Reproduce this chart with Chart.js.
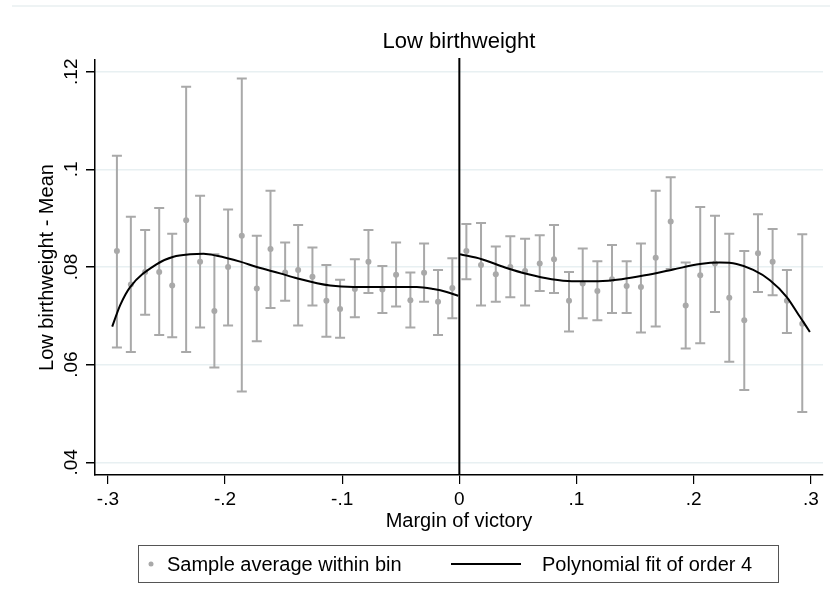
<!DOCTYPE html>
<html>
<head>
<meta charset="utf-8">
<script src="https://cdn.jsdelivr.net/npm/chart.js@4.4.1/dist/chart.umd.min.js"></script>
<style>
  html, body { margin: 0; padding: 0; background: #fff; }
  #wrap { width: 838px; height: 608px; }
</style>
</head>
<body>
<div id="wrap"><canvas id="chart" width="838" height="608"></canvas></div>
<script>
// Bin averages (left and right of the cutoff) with their confidence bars
const binX = [-0.2923, -0.2804, -0.2682, -0.2562, -0.2451, -0.2332, -0.2213, -0.2091, -0.1974, -0.1857,
    -0.1729, -0.1612, -0.1487, -0.1376, -0.1254, -0.1135, -0.1018, -0.0892, -0.0776, -0.0657,
    -0.0540, -0.0418, -0.0301, -0.0182, -0.0060,
    0.0060, 0.0185, 0.0311, 0.0435, 0.0561, 0.0686, 0.0808, 0.0936, 0.1053, 0.1178,
    0.1303, 0.1428, 0.1550, 0.1676, 0.1804, 0.1932, 0.2056, 0.2182, 0.2304, 0.2432,
    0.2549, 0.2674, 0.2796, 0.2927];
const binMean = [0.0833, 0.0764, 0.0790, 0.0790, 0.0762, 0.0896, 0.0811, 0.0710, 0.0800, 0.0864,
    0.0756, 0.0837, 0.0789, 0.0794, 0.0780, 0.0731, 0.0714, 0.0755, 0.0811, 0.0754,
    0.0784, 0.0732, 0.0788, 0.0729, 0.0757,
    0.0833, 0.0804, 0.0785, 0.0800, 0.0792, 0.0807, 0.0816, 0.0731, 0.0766, 0.0751,
    0.0775, 0.0761, 0.0759, 0.0819, 0.0893, 0.0721, 0.0783, 0.0807, 0.0737, 0.0691,
    0.0828, 0.0811, 0.0731, 0.0684];
const binHi = [0.1028, 0.0903, 0.0876, 0.0921, 0.0868, 0.1169, 0.0946, 0.0826, 0.0918, 0.1186,
    0.0864, 0.0956, 0.0850, 0.0886, 0.0840, 0.0804, 0.0774, 0.0816, 0.0876, 0.0802,
    0.0850, 0.0789, 0.0848, 0.0794, 0.0818,
    0.0888, 0.0890, 0.0842, 0.0863, 0.0858, 0.0865, 0.0886, 0.0790, 0.0838, 0.0812,
    0.0845, 0.0812, 0.0848, 0.0956, 0.0984, 0.0809, 0.0923, 0.0905, 0.0868, 0.0833,
    0.0908, 0.0878, 0.0794, 0.0867];
const binLo = [0.0635, 0.0626, 0.0702, 0.0661, 0.0656, 0.0626, 0.0676, 0.0594, 0.0680, 0.0545,
    0.0648, 0.0716, 0.0731, 0.0680, 0.0721, 0.0657, 0.0655, 0.0697, 0.0747, 0.0706,
    0.0719, 0.0676, 0.0729, 0.0661, 0.0695,
    0.0775, 0.0721, 0.0729, 0.0738, 0.0721, 0.0751, 0.0747, 0.0668, 0.0695, 0.0691,
    0.0706, 0.0706, 0.0666, 0.0678, 0.0796, 0.0633, 0.0644, 0.0708, 0.0606, 0.0548,
    0.0749, 0.0742, 0.0665, 0.0503];

// Polynomial fit
const fitLeftX = [-0.2963, -0.2895, -0.2810, -0.2582, -0.2440, -0.2298, -0.2184, -0.2070, -0.1871,
    -0.1729, -0.1530, -0.1387, -0.1103, -0.0904, -0.0619, -0.0363, -0.0222, -0.0108, -0.0009];
const fitLeftY = [0.0678, 0.0722, 0.0759, 0.0806, 0.0821, 0.0826, 0.0827, 0.0823, 0.0811,
    0.0800, 0.0787, 0.0777, 0.0762, 0.0759, 0.0759, 0.0759, 0.0755, 0.0749, 0.0741];
const fitRightX = [0.0006, 0.0191, 0.0390, 0.0589, 0.0788, 0.0959, 0.1186, 0.1386, 0.1584,
    0.1826, 0.2054, 0.2224, 0.2367, 0.2509, 0.2651, 0.2793, 0.2907, 0.2992];
const fitRightY = [0.0826, 0.0816, 0.0799, 0.0785, 0.0775, 0.0771, 0.0771, 0.0775, 0.0783,
    0.0795, 0.0806, 0.0809, 0.0806, 0.0794, 0.0773, 0.0739, 0.0698, 0.0667];

const xTicks = [-0.3, -0.2, -0.1, 0, 0.1, 0.2, 0.3];
const xTickLabels = ['-.3', '-.2', '-.1', '0', '.1', '.2', '.3'];
const yTicks = [0.04, 0.06, 0.08, 0.1, 0.12];
const yTickLabels = ['.04', '.06', '.08', '.1', '.12'];

const X_MIN = -0.311, X_MAX = 0.3104;
const Y_MIN = 0.0374, Y_MAX = 0.1224;

const FONT = "'Liberation Sans', Arial, sans-serif";
const GRAY = '#a9a9a9';

const toPts = (xs, ys) => xs.map((x, i) => ({ x: x, y: ys[i] }));

// Error bars, y tick labels, titles, legend box
const stataPlugin = {
    id: 'stata',
    beforeDatasetsDraw(chart) {
        const { ctx, scales: { x, y } } = chart;
        ctx.save();
        ctx.strokeStyle = GRAY;
        ctx.lineWidth = 2;
        binX.forEach((bx, i) => {
            const px = x.getPixelForValue(bx);
            const top = y.getPixelForValue(binHi[i]);
            const bot = y.getPixelForValue(binLo[i]);
            ctx.beginPath();
            ctx.moveTo(px, top); ctx.lineTo(px, bot);
            ctx.moveTo(px - 5, top); ctx.lineTo(px + 5, top);
            ctx.moveTo(px - 5, bot); ctx.lineTo(px + 5, bot);
            ctx.stroke();
        });
        ctx.restore();
    },
    afterDraw(chart) {
        const { ctx, chartArea, scales: { y } } = chart;
        const cx = (chartArea.left + chartArea.right) / 2;
        const cy = (chartArea.top + chartArea.bottom) / 2;
        ctx.save();

        // faint outer frame line
        ctx.strokeStyle = '#e8eff1';
        ctx.lineWidth = 1.5;
        ctx.beginPath(); ctx.moveTo(12, 6); ctx.lineTo(830, 6); ctx.stroke();

        ctx.fillStyle = '#000';
        ctx.textAlign = 'center';
        ctx.textBaseline = 'alphabetic';

        ctx.font = '22px ' + FONT;
        ctx.fillText('Low birthweight', cx, 48);

        ctx.font = '20px ' + FONT;
        ctx.fillText('Margin of victory', cx, 527);

        // rotated y labels
        ctx.font = '19px ' + FONT;
        yTicks.forEach((v, i) => {
            ctx.save();
            ctx.translate(77, y.getPixelForValue(v));
            ctx.rotate(-Math.PI / 2);
            ctx.fillText(yTickLabels[i], 0, 0);
            ctx.restore();
        });
        ctx.font = '20px ' + FONT;
        ctx.save();
        ctx.translate(53, cy);
        ctx.rotate(-Math.PI / 2);
        ctx.fillText('Low birthweight - Mean', 0, 0);
        ctx.restore();

        // legend
        ctx.strokeStyle = '#555';
        ctx.lineWidth = 1;
        ctx.strokeRect(138.5, 545.5, 640, 37);
        ctx.fillStyle = GRAY;
        ctx.beginPath(); ctx.arc(151, 564, 2.5, 0, Math.PI * 2); ctx.fill();
        ctx.strokeStyle = '#000';
        ctx.lineWidth = 2;
        ctx.beginPath(); ctx.moveTo(451, 564); ctx.lineTo(521, 564); ctx.stroke();
        ctx.fillStyle = '#000';
        ctx.textAlign = 'left';
        ctx.font = '20px ' + FONT;
        ctx.fillText('Sample average within bin', 167, 571);
        ctx.fillText('Polynomial fit of order 4', 542, 571);
        ctx.restore();
    }
};

const curveStyle = {
    type: 'line',
    showLine: true,
    borderColor: '#000',
    borderWidth: 2,
    pointRadius: 0,
    fill: false,
    cubicInterpolationMode: 'monotone'
};

new Chart(document.getElementById('chart'), {
    type: 'scatter',
    data: {
        datasets: [
            { ...curveStyle, label: 'Polynomial fit of order 4', data: toPts(fitLeftX, fitLeftY) },
            { ...curveStyle, label: 'fit right', data: toPts(fitRightX, fitRightY) },
            {
                type: 'line', label: 'cutoff', showLine: true, borderColor: '#000', borderWidth: 2,
                pointRadius: 0, clip: false,
                data: [{ x: 0, y: Y_MIN }, { x: 0, y: Y_MAX + 0.0004 }]
            },
            {
                label: 'Sample average within bin',
                data: toPts(binX, binMean),
                pointRadius: 3,
                pointBackgroundColor: GRAY,
                pointBorderWidth: 0,
                borderColor: GRAY
            }
        ]
    },
    options: {
        responsive: false,
        animation: false,
        devicePixelRatio: 1,
        layout: { padding: { top: 60, right: 15, bottom: 0, left: 0 } },
        plugins: {
            legend: { display: false },
            title: { display: false },
            tooltip: { enabled: false }
        },
        scales: {
            x: {
                type: 'linear',
                min: X_MIN,
                max: X_MAX,
                afterBuildTicks: s => { s.ticks = xTicks.map(v => ({ value: v })); },
                afterFit: s => { s.height = 133; },
                border: { display: true, color: '#000', width: 1.5 },
                grid: { drawOnChartArea: false, drawTicks: true, tickLength: 9, tickColor: '#000', lineWidth: 1.2 },
                ticks: {
                    color: '#000',
                    padding: 4,
                    maxRotation: 0,
                    font: { family: FONT, size: 19 },
                    callback: (v) => xTickLabels[xTicks.findIndex(t => Math.abs(t - v) < 1e-9)]
                }
            },
            y: {
                type: 'linear',
                min: Y_MIN,
                max: Y_MAX,
                afterBuildTicks: s => { s.ticks = yTicks.map(v => ({ value: v })); },
                afterFit: s => { s.width = 95; },
                border: { display: true, color: '#000', width: 1.5 },
                grid: { color: '#e8f0f2', lineWidth: 1.5, drawTicks: true, tickLength: 9, tickColor: '#000' },
                ticks: { display: false }
            }
        }
    },
    plugins: [stataPlugin]
});
</script>
</body>
</html>
